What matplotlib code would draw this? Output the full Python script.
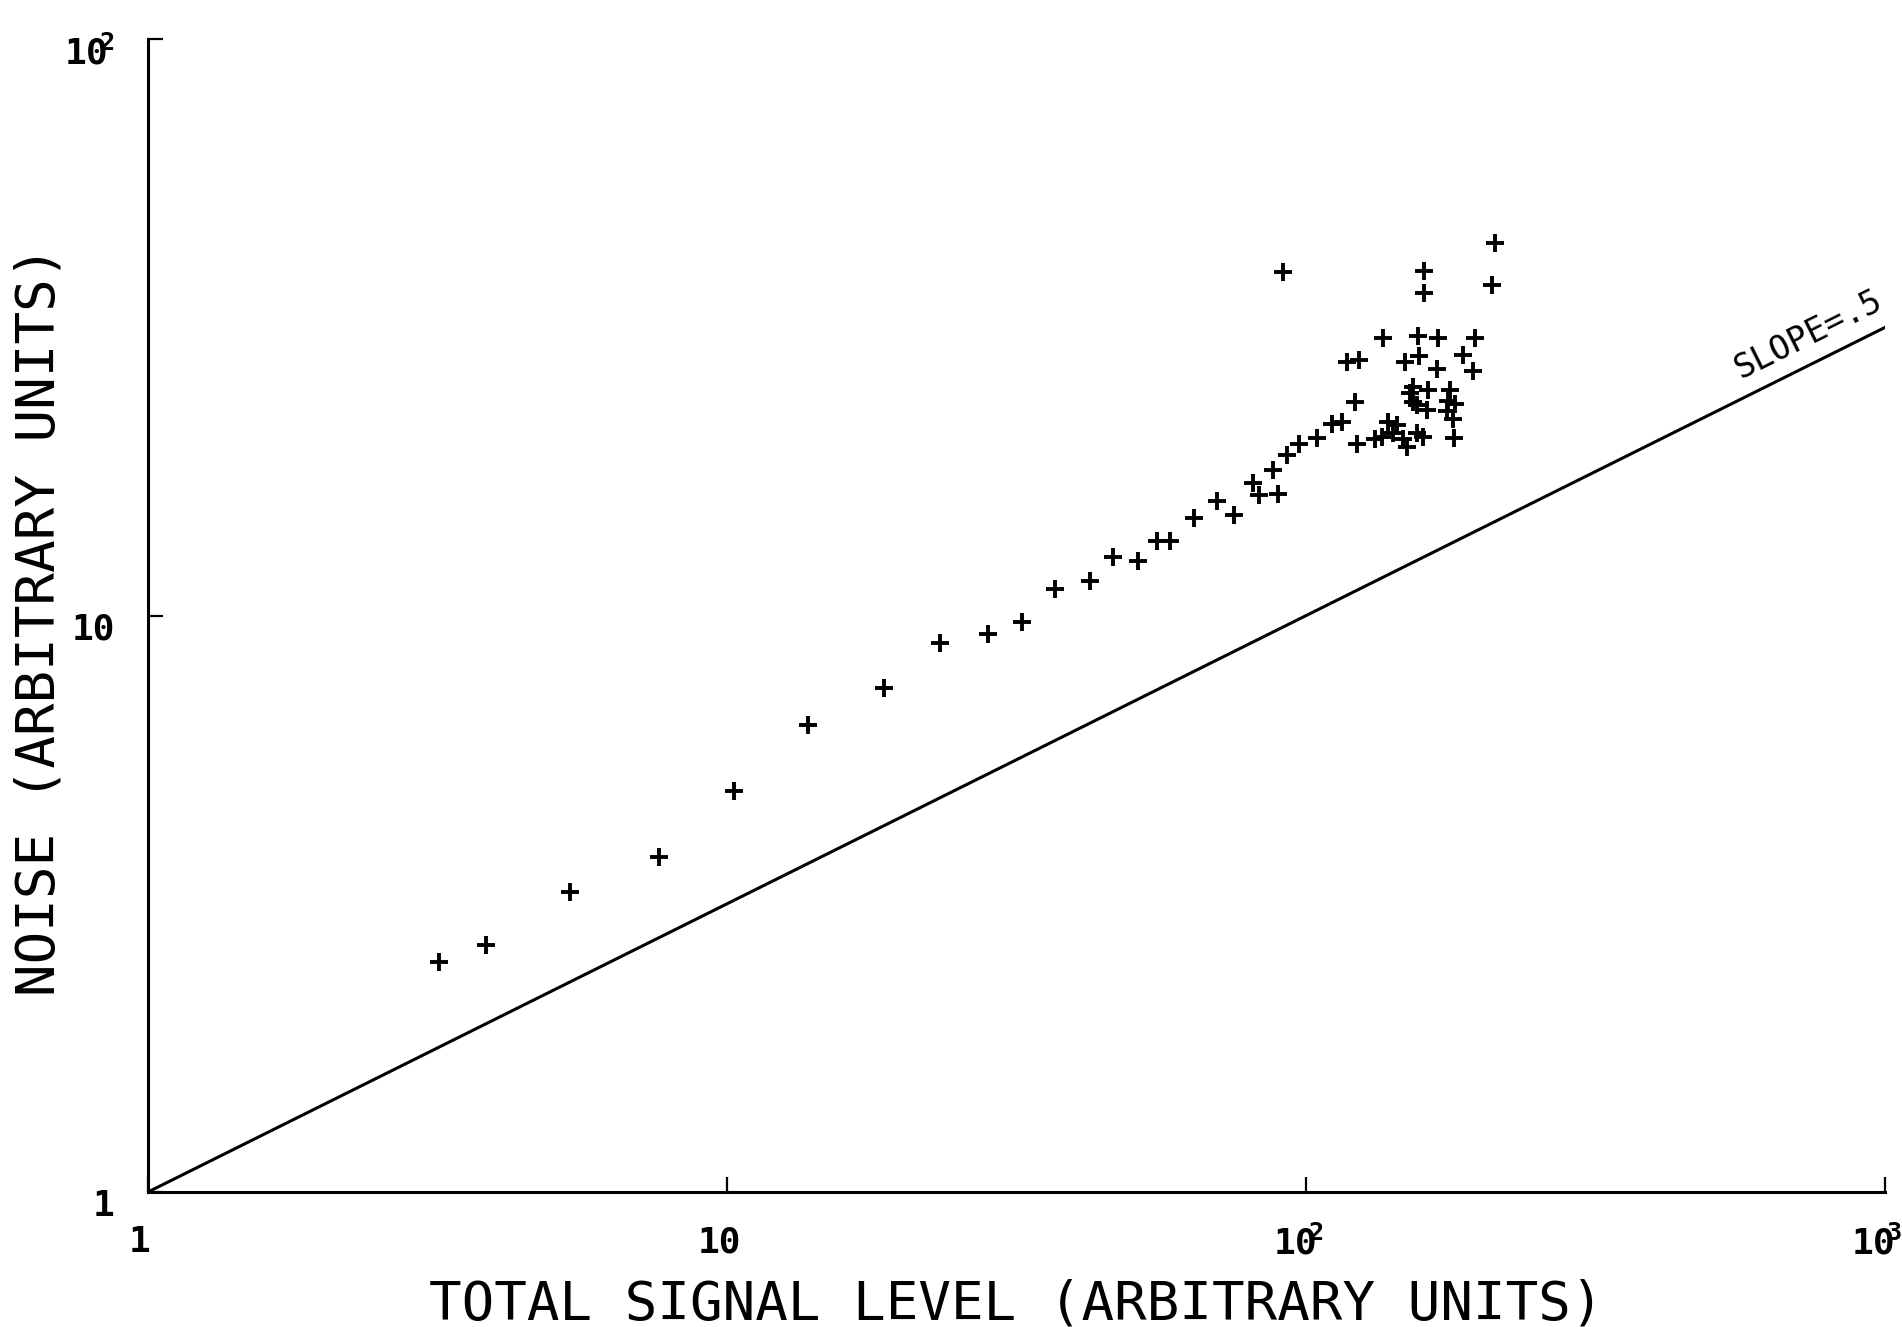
import matplotlib
matplotlib.use('Agg')
import matplotlib.pyplot as plt
import matplotlib.transforms as mtransforms

# measured points: total signal level vs noise (arbitrary units)
signal = [3.18, 3.84, 5.35, 7.64, 10.3, 13.8, 18.7, 23.3, 28.2, 32.3,
          36.8, 42.3, 46.4, 51.3, 55.2, 58.2, 64.1, 70.2, 75.1, 81.1,
          83.1, 89.3, 87.6, 92.9, 97.4, 104.3, 110.8, 115.3,
          122.4, 131.6, 135.1, 138.8, 141.5, 143.4, 147.2, 149.3, 155.3, 159.4, 180.1,
          121.4, 153.2, 162.7, 153.2, 161.6, 177.3, 176.1, 180.9, 179.6, 151.2, 155.3, 175.0,
          117.6, 123.6, 148.4, 156.9, 168.2, 187.0, 194.1,
          136.0, 155.9, 169.3, 196.1,
          91.4, 160.0, 160.0, 212.0, 209.8]
noise  = [2.51, 2.68, 3.31, 3.81, 4.97, 6.46, 7.48, 8.95, 9.30, 9.76,
          11.13, 11.46, 12.62, 12.44, 13.44, 13.44, 14.74, 15.78, 14.96, 16.96,
          16.16, 16.24, 17.89, 18.96, 19.81, 20.3, 21.5, 21.7,
          19.8, 20.2, 20.4, 21.7, 20.7, 21.4, 20.2, 19.6, 20.7, 20.4, 20.3,
          23.5, 24.9, 24.6, 23.5, 22.7, 24.6, 23.6, 23.3, 21.9, 24.3, 23.2, 22.6,
          27.5, 27.7, 27.5, 28.2, 26.8, 28.3, 26.6,
          30.3, 30.5, 30.3, 30.3,
          39.4, 39.6, 36.3, 44.3, 37.4]

# reference line with slope 0.5 on the log-log plot
slope_x = [1, 1000]
slope_y = [1, 31.6]

x_ticks = [1, 10, 100, 1000]
x_labels = ['1', '10', r'$\mathregular{10^{\!\!2}}$', r'$\mathregular{10^{\!\!3}}$']
y_ticks = [1, 10, 100]
y_labels = ['1', '10', r'$\mathregular{10^{\!\!2}}$']

plt.rcParams['font.family'] = ['DejaVu Sans Mono', 'DejaVu Sans']
plt.rcParams['mathtext.fontset'] = 'custom'
plt.rcParams['mathtext.rm'] = 'DejaVu Sans Mono:bold'

fig = plt.figure(figsize=(19.02, 13.27), dpi=100)
ax = fig.add_axes([148/1902, 1 - 1192/1327, 1737/1902, 1153/1327])

ax.plot(slope_x, slope_y, 'k-', linewidth=2.2)
ax.plot(signal, noise, 'k+', markersize=13, markeredgewidth=2.8, linestyle='none')
ax.text(760, 28.9, 'SLOPE=.5', rotation=26.5, rotation_mode='anchor',
        ha='center', va='bottom', fontsize=24)

ax.set_xscale('log')
ax.set_yscale('log')
ax.set_xlim(1, 1000)
ax.set_ylim(1, 100)

ax.spines['top'].set_visible(False)
ax.spines['right'].set_visible(False)
ax.spines['left'].set_linewidth(2.2)
ax.spines['bottom'].set_linewidth(2.2)

ax.set_xticks(x_ticks)
ax.set_xticklabels(x_labels)
ax.set_yticks(y_ticks)
ax.set_yticklabels(y_labels)
ax.minorticks_off()
ax.tick_params(direction='in', length=11, width=1.6, labelsize=26, pad=24)
for lab in ax.get_xticklabels() + ax.get_yticklabels():
  lab.set_fontweight('bold')

# labels sit a little below/left of their ticks in the original
yshift = mtransforms.ScaledTranslation(0, -11/100, fig.dpi_scale_trans)
for lab in ax.get_yticklabels():
  lab.set_transform(lab.get_transform() + yshift)
xshift = mtransforms.ScaledTranslation(-8/100, 0, fig.dpi_scale_trans)
for lab in ax.get_xticklabels():
  lab.set_transform(lab.get_transform() + xshift)

ax.set_xlabel('TOTAL SIGNAL LEVEL (ARBITRARY UNITS)', fontsize=39)
ax.set_ylabel('NOISE (ARBITRARY UNITS)', fontsize=39)
ax.xaxis.set_label_coords(0.5, (1192 - 1304) / 1153)
ax.xaxis.label.set_verticalalignment('center')
ax.yaxis.set_label_coords((40 - 148) / 1737, 0.495)
ax.yaxis.label.set_verticalalignment('center')

fig.savefig('out.png', dpi=100)
